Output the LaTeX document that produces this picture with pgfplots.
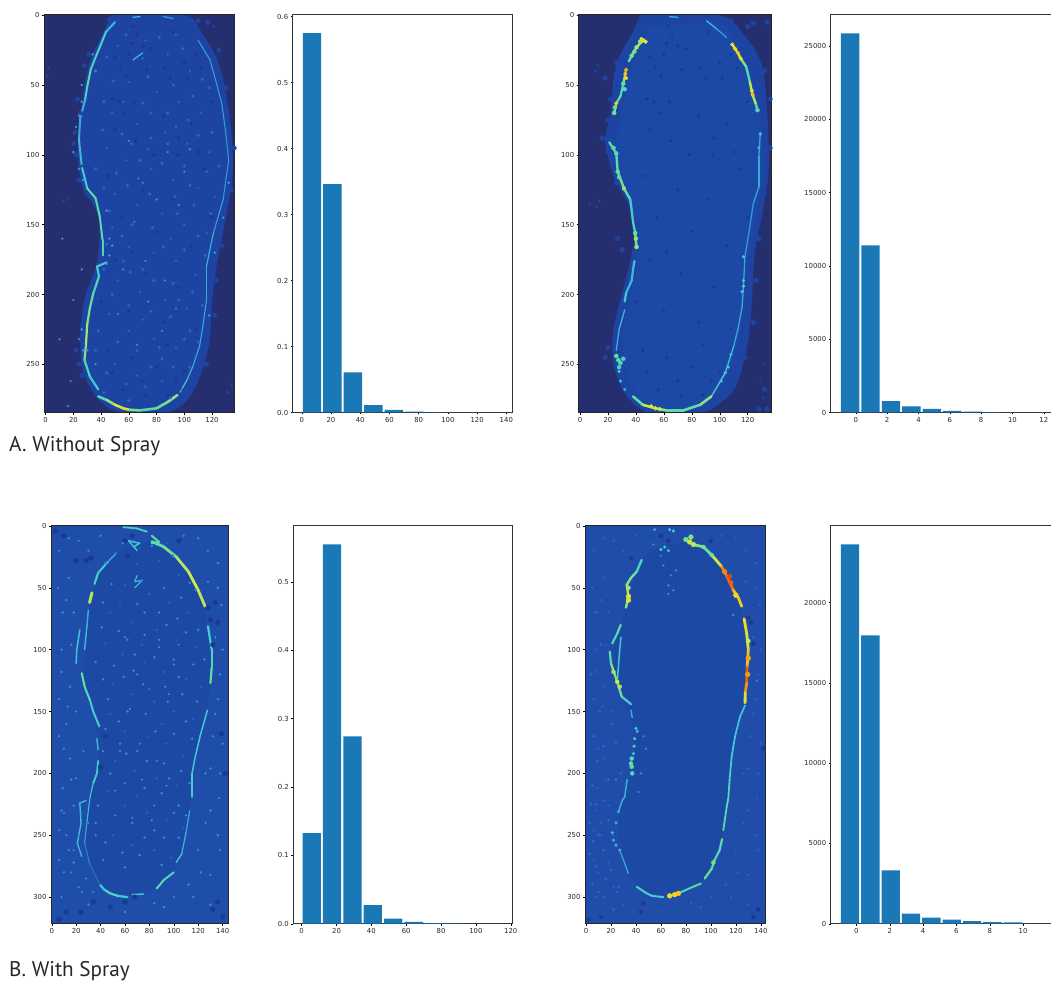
\documentclass[border=0pt]{standalone}
\usepackage{pgfplots}
\usepackage{pgfplotstable}
\usepackage{fontspec}
\pgfplotsset{compat=1.18}
\setmainfont{DejaVu Sans}
\newfontfamily\labelfont{PT Sans}
\definecolor{barblue}{HTML}{1A78B6}
\definecolor{navy}{HTML}{252F6F}
\definecolor{soleA}{HTML}{1C49A6}
\definecolor{haloA}{HTML}{1D44A2}
\definecolor{soleB}{HTML}{1C49A4}
\definecolor{bgB}{HTML}{1F4EAA}
\definecolor{spk}{HTML}{2A66C6}
\definecolor{spkb}{HTML}{3A90DC}
\definecolor{hole}{HTML}{1A3A92}
\pgfplotsset{
  colormap={sole}{rgb255(0cm)=(37,47,111) rgb255(12cm)=(28,73,163) rgb255(25cm)=(47,134,216) rgb255(38cm)=(63,200,216) rgb255(50cm)=(96,223,160) rgb255(62cm)=(207,232,74) rgb255(72cm)=(245,216,30) rgb255(85cm)=(240,112,16) rgb255(100cm)=(200,30,16)},
  common/.style={scale only axis, tick align=outside, major tick length=2pt,
    tick style={black,line width=.4pt},
    tick label style={font=\fontsize{6.9}{7}\selectfont,text=black!85},
    /pgf/number format/assume math mode=true,
    /pgf/number format/1000 sep={},
    xticklabel style={yshift=1pt}, yticklabel style={xshift=1pt},
    scaled ticks=false},
  heat/.style={common, y dir=reverse, axis on top, colormap name=sole,
    point meta min=0, point meta max=1, xtick pos=lower, xticklabel pos=lower, ytick pos=left,
    axis line style={line width=.8pt,color=black!85}, ymin=-0.5},
  hist/.style={common, ymin=0, axis line style={line width=1pt,color=black!80},
    xtick pos=lower, ytick pos=left, ybar, bar shift=0pt},
  bars/.style={fill=barblue, draw=none},
  hot/.style={scatter, only marks, mark=*, mark size=#1, point meta=explicit,
    scatter/use mapped color={draw=mapped color, fill=mapped color}},
  edge/.style={mesh, point meta=explicit, line width=#1, line cap=round, line join=round},
  speck/.style={only marks, mark=*, mark size=#1, mark options={draw=none}},
}
\pgfplotstableread{
x y
52 22
70 31
88 28
104 40
60 48
80 55
96 62
112 70
48 70
66 78
86 84
102 92
118 98
44 95
58 104
76 110
92 118
110 124
122 130
50 128
66 136
84 142
100 150
116 156
48 152
60 166
78 170
94 176
108 186
52 190
68 198
86 204
102 210
46 214
60 226
78 232
94 238
108 244
50 250
66 258
84 262
98 268
72 18
94 14
56 62
74 96
90 160
70 218
}\speckA
\pgfplotstableread{
x y
44 30
58 14
82 16
99 24
113 46
120 84
74 44
49 47
92 50
106 58
118 52
42 62
70 63
88 70
103 75
41 82
55 85
76 88
94 80
110 86
125 108
36 110
51 113
67 117
84 106
100 108
116 112
42 124
59 122
75 128
93 130
107 136
119 142
46 140
62 150
77 152
95 142
110 158
44 164
56 176
70 182
85 166
100 168
115 172
42 182
61 184
78 190
92 192
106 198
113 208
48 200
60 208
76 212
90 216
104 226
38 226
52 234
66 240
84 246
100 232
110 234
36 240
44 256
58 264
76 252
92 252
104 252
42 270
60 276
72 266
90 274
82 238
96 204
55 158
68 104
104 122
88 92
62 92
76 70
}\speckB
\pgfplotstableread{
x y
63 8
62 20
54 37
73 39
102 45
92 12
57 70
53 62
76 24
108 28
48 60
90 45
65 90
85 72
105 78
120 62
45 115
70 125
95 100
115 110
55 145
80 155
105 165
120 145
50 175
72 185
96 195
60 212
85 220
108 225
45 240
62 245
80 252
100 255
56 268
72 272
88 272
40 205
66 14
60 28
70 22
58 44
86 38
100 34
112 38
50 30
64 62
50 82
96 88
78 100
110 98
92 132
62 170
88 236
70 262
48 256
94 262
}\holes
\pgfplotstableread{
x y
6 20
14 42
9 70
16 96
8 118
13 146
6 170
15 188
9 212
18 226
6 246
14 262
10 280
22 292
8 300
136 30
128 20
139 64
134 90
138 120
134 152
140 176
130 196
137 220
126 240
138 262
130 282
116 300
130 306
30 306
60 312
92 308
22 12
40 8
108 8
5 50
12 60
18 70
8 100
15 130
6 140
20 150
10 180
16 205
8 230
22 250
12 250
6 270
18 272
25 296
136 50
128 45
140 100
136 140
132 170
126 200
138 200
120 262
130 230
136 250
122 280
100 300
112 290
84 305
30 20
14 10
120 10
}\speckO
\pgfplotstableread{
x y
30 240
24 232
36 250
18 262
28 285
34 296
16 280
10 232
20 204
26 182
12 160
100 112
70 120
60 90
80 132
96 136
64 148
72 176
86 190
56 182
94 210
74 205
52 214
84 226
66 236
104 96
88 98
}\speckL
\begin{document}
\begin{tikzpicture}[x=1pt,y=1pt]
\path[use as bounding box] (0,0) rectangle (1051,983);
\clip (0,0) rectangle (1051,983);
% ---------- A heat 1
\begin{axis}[heat, at={(44pt,570.5pt)}, anchor=south west, width=190.5pt, height=398pt,
  xmin=-1.2, xmax=136.2, ymax=284.5, xtick={0,20,...,120}, ytick={0,50,...,250},
  axis background/.style={fill=navy}]
\addplot[fill=haloA, draw=none, smooth] coordinates {(47,0)(100,0)(112,12)(125,35)(133,75)(135,110)(131,140)(124,175)(120,205)(118,235)(110,262)(100,278)(85,285)(55,285)(38,275)(27,255)(25,225)(29,200)(37,178)(39,150)(34,135)(27,125)(23,100)(25,75)(28,50)(33,30)(42,12)} --cycle;
\addplot[speck=2.2, color=haloA] coordinates {(20,92)(22,100)(24,118)(21,84)(25,70)(23,60)(28,36)(31,28)(44,150)(46,160)(47,170)(46,178)(22,240)(24,250)(26,258)(123,190)(122,215)(116,250)(136,95)(134,125)(127,165)(130,52)(125,25)(110,4)(46,3)(117,5)};
\addplot[speck=1.3, color=haloA] coordinates {(2,38)(1,44)(13,133)(16,131)(134,265)(131,270)(127,290)(117,6)(121,8)(103,3)(26,108)};
\addplot[speck=1.4, color=spk] table {\speckB};
\addplot[speck=1.8, hole] table {\holes};
\addplot[speck=1, spk] table {\speckA};
\addplot[speck=.9, color=spkb] table {\speckL};
\addplot[speck=1.1, color=spkb] coordinates {(22,80)(24,110)(20,98)(26,62)(46,160)(44,140)(46,172)(27,240)(26,225)(132,120)(128,145)(34,28)(122,170)(118,215)(24,72)(27,118)(48,165)(44,178)(36,40)(26,50)};
\addplot[edge=1.1pt] coordinates {(110,18)[.25](118.5,32)[.34](123,48)[.26](127,63)[.32](130,85)[.26](132,104)[.28](128,132)[.28](121,156)[.32](118,170)[.36](116,180)[.32](116,204)[.34](113,225)[.3](111,237)[.34](106,252)[.32](102,261)[.38](97,270)[.42]};
\addplot[edge=1.2pt] coordinates {(92,2.4)[.3](85,1)[.3]};
\addplot[edge=1.2pt] coordinates {(63,1.5)[.4](68,1)[.34]};
\addplot[edge=1.2pt] coordinates {(63,32)[.34](70,27)[.38]};
\addplot[edge=2pt] coordinates {(50,5)[.3](43.5,12)[.4](39,23)[.44](35.6,31)[.44](32.5,39)[.44](30,51)[.5](28.4,61)[.38](25,73)[.3](24,89)[.35](26,108)[.35](30,124)[.44](36,131)[.54](39,144)[.44](41,161)[.48](41,172)[.42]};
\addplot[edge=2.2pt] coordinates {(44,177)[.38](37,180)[.37](38.5,187)[.42](34.4,199)[.47](32,209)[.52](30,221)[.54](29,237)[.6](28,247)[.47](32,259)[.4](38,268)[.4]};
\addplot[edge=2.6pt] coordinates {(38,273)[.42](44,275.5)[.5](50,279)[.62](56,281.5)[.7](60,282.5)[.64](68,283)[.42](80,281.5)[.5](88,277)[.52](95,272)[.57]};
\end{axis}
% ---------- A hist 1
\begin{axis}[hist, at={(292.7pt,570.5pt)}, anchor=south west, width=219.6pt, height=398pt,
  xmin=-6.2, xmax=144.1, ymax=0.6033, xtick={0,20,...,140}, ytick={0,0.1,...,0.6},
  yticklabel style={/pgf/number format/fixed,/pgf/number format/fixed zerofill,/pgf/number format/precision=1},
  bar width=12.6]
\addplot[bars] coordinates {(7,0.575)(21,0.346)(35,0.061)(49,0.011)(63,0.004)(77,0.0015)(91,0.0005)(105,0.0003)(119,0.0002)};
\end{axis}
% ---------- A heat 2
\begin{axis}[heat, at={(578.7pt,570.5pt)}, anchor=south west, width=192.3pt, height=398pt,
  xmin=-0.9, xmax=136.7, ymax=284.5, xtick={0,20,...,120}, ytick={0,50,...,250},
  axis background/.style={fill=navy}]
\addplot[fill=haloA, draw=none, smooth] coordinates {(43,0)(100,0)(118,15)(130,35)(134,70)(135,110)(131,140)(125,170)(123,205)(120,235)(112,265)(100,278)(85,285)(50,285)(33,272)(24,250)(24,225)(30,200)(36,175)(40,150)(32,130)(24,115)(18,90)(22,70)(24,45)(28,30)(38,12)} --cycle;
\addplot[speck=2.4, color=haloA] coordinates {(16,88)(20,98)(26,120)(22,60)(20,75)(26,34)(18,45)(136,95)(132,128)(128,160)(126,190)(124,220)(118,245)(112,240)(136,60)(132,40)(120,8)(108,4)(132,268)(134,282)(128,282)(42,150)(44,160)(134,5)(124,6)(18,245)(20,238)(30,168)(27,160)};
\addplot[speck=1.2, color=haloA] coordinates {(13,36)(11,40)(14,133)(12,137)(7,135)(132,250)(129,262)(131,274)};
\addplot[fill=soleA, draw=none, smooth] coordinates {(50,8)(98,6)(110,20)(122,42)(129,75)(131,110)(127,140)(120,175)(117,205)(113,235)(105,258)(95,272)(80,281)(58,281)(42,272)(32,250)(31,225)(36,200)(42,175)(41,150)(36,130)(30,115)(26,95)(30,70)(34,48)(40,30)} --cycle;
\addplot[speck=1.4, hole] table {\holes};
\addplot[edge=1.3pt] coordinates {(129,85)[.3](128,101)[.32](128,123)[.32](124,135)[.3](121,155)[.27](118,173)[.3](117,194)[.32](116,209)[.32](113,225)[.3](110,237)[.34](104,256)[.38](94,273)[.44]};
\addplot[edge=1.3pt] coordinates {(64,1)[.34](70,1.5)[.32]};
\addplot[edge=1.3pt] coordinates {(90.6,4)[.42](98,10)[.3](105,16)[.28]};
\addplot[edge=1.3pt] coordinates {(32,211)[.38](28,225)[.32](26,240)[.34]};
\addplot[edge=2.4pt] coordinates {(47,19)[.68](45,18)[.62](40.5,23)[.56](37,29)[.52](35,33)[.44]};
\addplot[edge=2.2pt] coordinates {(33,39)[.6](31,49)[.5](29,58)[.42](26,63)[.56](24.5,70)[.5]};
\addplot[edge=2.4pt] coordinates {(21,91)[.45](26,99)[.46](27,112)[.5](31.5,124)[.55](36,132)[.42](38,148)[.36](39.5,156)[.5](40.5,166)[.55]};
\addplot[edge=2.2pt] coordinates {(39,176)[.38](38,182)[.36](37,190)[.34](33,199)[.36](32,205)[.4]};
\addplot[edge=2.6pt] coordinates {(38,273)[.42](45,279)[.55](54,281.5)[.66](62,283)[.45](74,283)[.5](86,279)[.5](94,273)[.58]};
\addplot[edge=2.4pt] coordinates {(109,21)[.66](113,27)[.72](115,31)[.66](119,37)[.42](121.6,48)[.5](123.5,57)[.72](126,64)[.46](127,68)[.45]};
\addplot[hot=1.4] coordinates {(117,194)[.42](117,190)[.42](116,198)[.38](117,173)[.38](108,243)[.36](28,255)[.4](29,262)[.35](32,268)[.32](104,256)[.42](106,252)[.42](101,262)[.38](128,95)[.34](129,85)[.38]};
\addplot[hot=2] coordinates {(45,18)[.62](43,19)[.55](40.5,23)[.56](39,26)[.52](37,29)[.52](31,49)[.5](32,53)[.46](24.5,70)[.52](25,66)[.5](24,95)[.48](26,99)[.48](27,112)[.5](28,116)[.46](31.5,124)[.55](39.5,156)[.5](40,160)[.55](40.5,166)[.55](27.5,247)[.48](26,244)[.5](29,249)[.46](31,246)[.42](28,252)[.42](127,68)[.45]};
\addplot[hot=1.9] coordinates {(109,21)[.68](111,24)[.72](113,27)[.75](115,31)[.7](123.5,57)[.75](123,54)[.62](33,39)[.78](32.5,42)[.75](33,45)[.7](26,63)[.74](44,17)[.7](47,19)[.68](54,281.5)[.66](51,280)[.62](57,282)[.62]};
\end{axis}
% ---------- A hist 2
\begin{axis}[hist, at={(830.7pt,570.5pt)}, anchor=south west, width=225pt, height=398pt,
  xmin=-1.6, xmax=12.76, ymax=27160, xtick={0,2,...,12}, ytick={0,5000,...,25000},
  bar width=1.17]
\addplot[bars] coordinates {(-0.36,25864)(0.943,11410)(2.246,770)(3.549,410)(4.852,250)(6.155,110)(7.458,60)(8.761,25)(10.064,12)(11.367,6)};
\end{axis}
% ---------- B heat 1
\begin{axis}[heat, at={(51pt,59.3pt)}, anchor=south west, width=177pt, height=398.4pt,
  xmin=-0.6, xmax=144.4, ymax=321.5, xtick={0,20,...,140}, ytick={0,50,...,300},
  axis background/.style={fill=bgB}]
\addplot[fill=soleB, draw=none, smooth] coordinates {(82,12)(102,25)(120,52)(128,81)(131,100)(130,127)(127,149)(117,189)(113,230)(106,265)(97,282)(75,297)(58,299)(42,292)(31,273)(27,256)(30,225)(37,200)(38,170)(31,141)(26,119)(27,100)(29,79)(33,57)(38,38)(53,22)(67,15)} --cycle;
\addplot[speck=2.4, color=hole] coordinates {(6,318)(12,312)(48,308)(60,304)(68,300)(132,310)(140,316)(136,304)(28,28)(60,12)(66,8)(104,12)(130,76)(136,78)(132,96)(139,168)(44,170)(40,195)(20,28)(10,8)(3,4)(142,200)(134,62)(34,304)(24,312)(32,26)(62,24)(128,66)};
\addplot[speck=1, spk] table {\speckO};
\addplot[speck=.8, spkb] table {\speckO};
\addplot[speck=1.2, spk] table {\speckB};
\addplot[speck=.7, spkb] table {\speckB};
\addplot[speck=.9, spk] table {\speckA};
\addplot[speck=.8, spkb] table {\speckL};
\addplot[edge=1.5pt] coordinates {(127.5,149)[.38](121.5,170)[.4](117,189)[.36](115,200)[.4](115,219)[.42]};
\addplot[edge=1.3pt] coordinates {(113,230)[.32](110,248)[.3](106.5,265)[.38](102,272)[.4]};
\addplot[edge=2pt] coordinates {(100,280)[.42](92,286)[.48](86,293)[.46]};
\addplot[edge=1.5pt] coordinates {(75,297.5)[.4](66,298)[.36]};
\addplot[edge=2.2pt] coordinates {(62,300)[.34](54,299)[.42](48,297)[.5](43,294)[.4](39.6,290)[.34]};
\addplot[edge=1.1pt] coordinates {(39.6,290)[.22](31,273)[.18](27,256)[.3](29,238)[.32](31.4,219)[.4](34,208)[.38]};
\addplot[edge=1.8pt] coordinates {(34,208)[.4](37,200)[.42](38,190)[.36]};
\addplot[edge=1.5pt] coordinates {(38,181)[.34](37,172)[.34]};
\addplot[edge=2pt] coordinates {(39,162)[.42](34,150)[.4](31.4,141)[.4](27,130)[.54](24.6,119)[.48]};
\addplot[edge=1.5pt] coordinates {(27,100)[.36](29,79)[.32](30,68)[.32]};
\addplot[edge=3pt] coordinates {(31,62)[.57](33,54)[.6]};
\addplot[edge=2pt] coordinates {(35,47)[.42](38,38)[.44](46,29)[.36]};
\addplot[edge=1.3pt] coordinates {(46,29)[.32](53,22)[.32]};
\addplot[edge=1.5pt] coordinates {(23,84)[.36](20.5,100)[.38](20,111)[.36]};
\addplot[edge=1.4pt] coordinates {(28,222)[.36](23,224)[.36](24,240)[.36](21,256.5)[.36](24.5,267)[.34]};
\addplot[edge=1.8pt] coordinates {(58.7,1)[.38](69.6,2)[.44](78,4.6)[.42]};
\addplot[edge=1.5pt] coordinates {(67,17)[.42](72,14)[.44](63,12)[.32](70,20)[.4]};
\addplot[edge=1.2pt] coordinates {(70,40)[.34](68,45)[.36](74,44)[.36](68,50)[.32]};
\addplot[edge=2.8pt] coordinates {(125.6,65)[.58](120,52)[.62](112,37)[.62](102,25)[.55](91.5,16.7)[.5](82,12.7)[.5]};
\addplot[edge=2pt] coordinates {(82,8)[.47](88,13)[.47](82,14)[.5]};
\addplot[edge=2.2pt] coordinates {(128,81)[.36](131,100)[.44](131,115)[.46](130,127)[.54]};
\end{axis}
% ---------- B hist 1
\begin{axis}[hist, at={(293.3pt,59.3pt)}, anchor=south west, width=219pt, height=398.4pt,
  xmin=-4.8, xmax=120.9, ymax=0.5825, xtick={0,20,...,120}, ytick={0,0.1,...,0.5},
  yticklabel style={/pgf/number format/fixed,/pgf/number format/fixed zerofill,/pgf/number format/precision=1},
  bar width=10.5]
\addplot[bars] coordinates {(5.75,0.1326)(17.45,0.5546)(29.15,0.274)(40.85,0.0273)(52.55,0.0073)(64.25,0.0027)(75.95,0.0008)(87.65,0.0003)(99.35,0.0002)(111.05,0.0001)};
\end{axis}
% ---------- B heat 2
\begin{axis}[heat, at={(585pt,59.3pt)}, anchor=south west, width=180.3pt, height=398.4pt,
  xmin=-0.8, xmax=143.6, ymax=321.5, xtick={0,20,...,140}, ytick={0,50,...,300},
  axis background/.style={fill=bgB!85!soleB}]
\addplot[fill=soleB, draw=none, smooth] coordinates {(83,13)(100,23)(115,41)(122,58)(128,87)(130,100)(129,127)(127,140)(117,186)(112,227)(107,262)(91,289)(71,298)(49,297)(34,281)(27,262)(27,231)(37,194)(38,163)(29,138)(25,126)(22,100)(28,80)(34,57)(45,27)(63,15)} --cycle;
\addplot[speck=2, hole] coordinates {(46,305)(44,312)(138,310)(134,316)(2,318)(130,74)(132,78)(36,26)(60,8)(66,12)(100,12)(142,180)(134,95)(12,316)};
\addplot[speck=.9, spk] table {\speckO};
\addplot[speck=1.3, spk] coordinates {(5,210)(8,225)(12,240)(6,255)(14,262)(18,238)(8,275)(16,285)(10,296)(3,240)(5,290)(20,278)(26,292)(22,310)(14,222)(9,190)(18,205)(6,170)(14,178)(24,175)(21,160)(11,150)(28,200)(4,120)(12,96)(8,70)(3,265)(10,250)(4,225)(14,300)};
\addplot[speck=.9, spkb] coordinates {(62,32)(68,40)(66,48)(66,55)(72,36)(54,15)(60,24)(70,52)(46,170)(48,180)(44,200)(42,215)(24,205)(118,72)(137,125)};
\addplot[edge=1.3pt] coordinates {(34,281)[.3](27,262)[.32]};
\addplot[edge=1.5pt] coordinates {(26,231)[.32](29,222)[.34](31,219)[.34](33,205)[.32]};
\addplot[edge=1.5pt] coordinates {(36,149)[.32](37,155)[.32]};
\addplot[edge=1.8pt] coordinates {(127.4,145)[.38](123.4,154)[.34](119.4,170)[.4](116.7,186)[.36](115,205)[.46](114,220)[.44](112.7,227)[.5](110,246)[.44]};
\addplot[edge=2.2pt] coordinates {(109,253)[.48](107,262)[.48](103,270)[.44](100.7,277)[.52](95,285)[.48]};
\addplot[edge=2pt] coordinates {(62,300)[.44](53,299)[.38](48.6,297)[.44](40.6,291.6)[.4]};
\addplot[edge=2pt] coordinates {(92,289)[.52](85,292)[.42](76,296)[.5]};
\addplot[edge=2.2pt] coordinates {(36,144)[.4](28.6,138)[.44](25,126)[.6](20,111)[.5](19,101.6)[.44]};
\addplot[edge=1.5pt] coordinates {(25,126)[.4](27,100)[.38](28,90)[.36]};
\addplot[edge=2.2pt] coordinates {(21,95)[.44](25,87)[.44](27.8,80)[.5]};
\addplot[edge=2.4pt] coordinates {(44.6,27.5)[.36](40.6,37)[.5](36,42)[.52](32.6,47.7)[.54](34,57)[.66](32,66)[.44]};
\addplot[edge=2.8pt] coordinates {(86,15)[.58](94,17)[.5](100.7,23.5)[.5](108.7,33)[.78](113,41)[.88](118,52)[.82](122,58)[.68](124.7,65)[.8]};
\addplot[edge=2.8pt] coordinates {(126.6,75)[.84](128.7,87)[.58](130,100)[.68](129,114)[.82](128.7,127)[.92](127.5,135)[.7](127.4,143)[.62]};
\addplot[hot=1.4] coordinates {(63,17)[.38](60,19)[.38](66,20)[.36](67,3)[.4](70,4)[.4](55,3)[.32](24,240)[.32](22,254)[.34](21,248)[.36](24,258)[.34](27,262)[.32](26,231)[.32](38.5,178)[.44](39,172)[.44](38,184)[.38](40,163.6)[.38](41,166)[.34]};
\addplot[hot=2] coordinates {(94,17)[.52](100.7,23.5)[.52](22,118)[.57](25,126)[.62](27,130)[.57](36.6,188)[.47](36.6,194.6)[.5](37,200)[.46](36,192)[.48](34,50)[.57](102,272)[.52](130,93)[.62]};
\addplot[hot=2.4] coordinates {(80,11)[.52](83,13)[.64](86,15)[.6](84,9)[.54](34,57)[.68](34,60)[.64](111,37)[.82](115,41)[.92](116,46)[.88](120,56)[.72](130,107)[.78](129.5,120)[.8](71,298)[.72](74,297)[.74](67,299)[.68]};
\end{axis}
% ---------- B hist 2
\begin{axis}[hist, at={(830.7pt,59.3pt)}, anchor=south west, width=225pt, height=398.4pt,
  xmin=-1.54, xmax=11.96, ymax=24822, xtick={0,2,...,10}, ytick={0,5000,...,20000},
  bar width=1.1]
\addplot[bars] coordinates {(-0.38,23635)(0.84,17965)(2.06,3323)(3.28,623)(4.5,374)(5.72,250)(6.94,166)(8.16,100)(9.38,80)(10.6,10)(11.82,6)};
\end{axis}
\node[anchor=base west, inner sep=0pt, font=\labelfont\fontsize{21.2}{24}\selectfont, text=black!85] at (9,531) {A. Without Spray};
\node[anchor=base west, inner sep=0pt, font=\labelfont\fontsize{21.2}{24}\selectfont, text=black!85] at (9,7) {B. With Spray};
\end{tikzpicture}
\end{document}
